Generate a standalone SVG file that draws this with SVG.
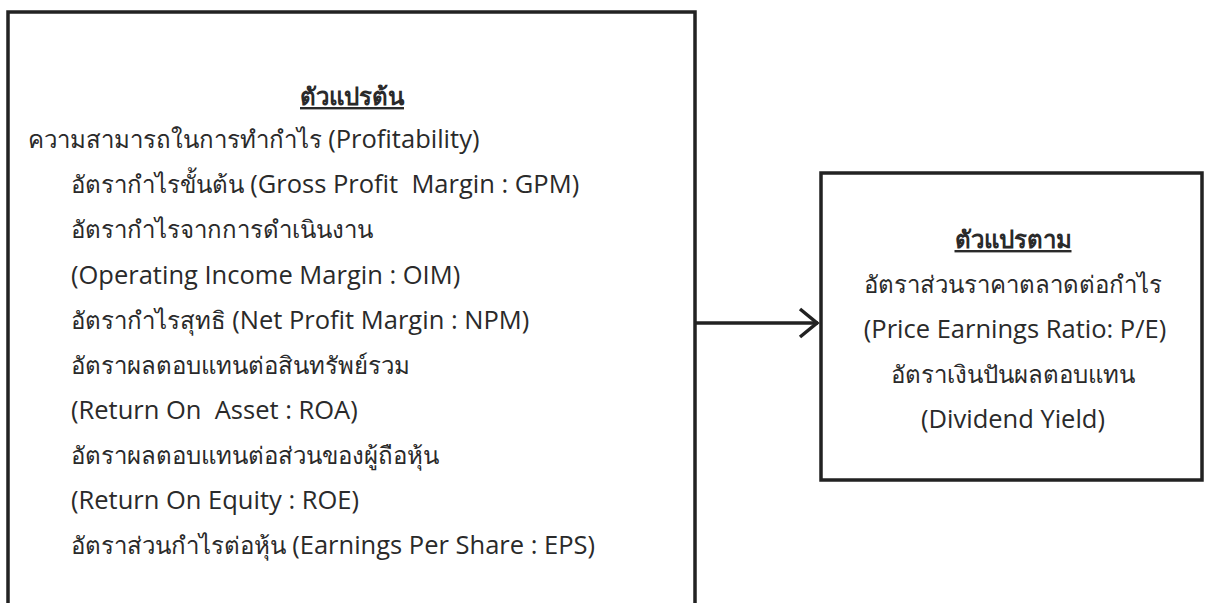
<svg xmlns="http://www.w3.org/2000/svg" width="1207" height="603" viewBox="0 0 1207 603">
<style>
.box{fill:#fff;stroke:#222;stroke-width:3.5}
.t{font-family:"Open Sans","Noto Sans","DejaVu Sans",sans-serif;font-size:24px;fill:#2a2a2a;white-space:pre}
.e{font-size:25.5px}
.h{font-weight:bold;text-decoration:underline}
.c{text-anchor:middle}
.conn{fill:none;stroke:#222;stroke-width:3.5}
</style>
<rect width="1207" height="603" fill="#fff"/>
<g id="independent">
<rect class="box" x="8" y="12" width="687" height="620"/>
<text class="t h c" x="352" y="105">ตัวแปรต้น</text>
<text class="t" x="28" y="148">ความสามารถในการทำกำไร <tspan class="e">(Profitability)</tspan></text>
<text class="t" x="71" y="193" xml:space="preserve">อัตรากำไรขั้นต้น <tspan class="e">(Gross Profit  Margin : GPM)</tspan></text>
<text class="t" x="71" y="238">อัตรากำไรจากการดำเนินงาน</text>
<text class="t e" x="71" y="284">(Operating Income Margin : OIM)</text>
<text class="t" x="71" y="329">อัตรากำไรสุทธิ <tspan class="e">(Net Profit Margin : NPM)</tspan></text>
<text class="t" x="71" y="374">อัตราผลตอบแทนต่อสินทรัพย์รวม</text>
<text class="t e" x="71" y="419" xml:space="preserve">(Return On  Asset : ROA)</text>
<text class="t" x="71" y="464">อัตราผลตอบแทนต่อส่วนของผู้ถือหุ้น</text>
<text class="t e" x="71" y="509">(Return On Equity : ROE)</text>
<text class="t" x="71" y="554">อัตราส่วนกำไรต่อหุ้น <tspan class="e">(Earnings Per Share : EPS)</tspan></text>
</g>
<g id="dependent">
<rect class="box" x="821" y="173" width="381" height="307"/>
<text class="t h c" x="1013" y="248">ตัวแปรตาม</text>
<text class="t c" x="1013" y="293">อัตราส่วนราคาตลาดต่อกำไร</text>
<text class="t e c" x="1015" y="338">(Price Earnings Ratio: P/E)</text>
<text class="t c" x="1013" y="383">อัตราเงินปันผลตอบแทน</text>
<text class="t e c" x="1013" y="428">(Dividend Yield)</text>
</g>
<g id="connectors">
<line class="conn" x1="695" y1="323" x2="818" y2="323"/>
<polyline class="conn" points="800,309 817,323 800,337"/>
</g>
</svg>
